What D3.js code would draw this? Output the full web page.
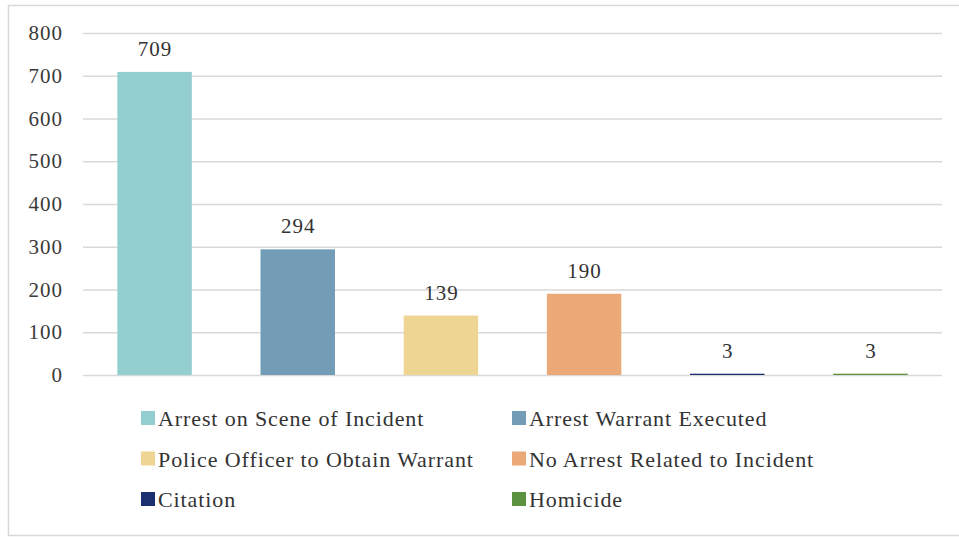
<!DOCTYPE html>
<html>
<head>
  <meta charset="utf-8">
  <script src="https://cdnjs.cloudflare.com/ajax/libs/d3/7.8.5/d3.min.js"></script>
  <style type="text/css">
	body { margin: 0; background: #fff; font-family: 'Liberation Serif', serif; }
	#warm { position: absolute; left: -2000px; top: 0; font-family: 'Liberation Serif'; font-size: 22px; }
	.grid line { stroke: #d9d9d9; stroke-width: 1.5; }
	.grid path { display: none; }
  </style>
</head>
<body>
<div id="warm">0123456789 Arrest</div>
<svg id="chart" width="959" height="537"></svg>
<script>
	var categories = ["Arrest on Scene of Incident", "Arrest Warrant Executed", "Police Officer to Obtain Warrant",
		"No Arrest Related to Incident", "Citation", "Homicide"];
	var values = [709, 294, 139, 190, 3, 3];
	var colors = ["#93ced0", "#739cb6", "#eed594", "#eaa976", "#1c2f6e", "#5a9240"];
	var yTicks = [0, 100, 200, 300, 400, 500, 600, 700, 800];

	var w = 959, h = 537;
	var plotLeft = 83, plotRight = 942, plotTop = 33, plotBottom = 375;
	var serif = "Liberation Serif";

	var svg = d3.select("#chart").attr("width", w).attr("height", h);

	//outer frame
	svg.append("rect")
		.attr("x", 8.5).attr("y", 5.5)
		.attr("width", 960).attr("height", 530)
		.attr("fill", "none")
		.attr("stroke", "#d9d9d9")
		.attr("stroke-width", 1.5);

	var xScale = d3.scaleBand().domain(categories).range([plotLeft, plotRight]).paddingInner(0.48).paddingOuter(0.24);
	var yScale = d3.scaleLinear().domain([0, 800]).range([plotBottom, plotTop]);

	//gridlines + tick labels
	var yAxis = d3.axisLeft(yScale).tickValues(yTicks).tickSizeInner(-(plotRight - plotLeft)).tickSizeOuter(0).tickPadding(21);
	var gy = svg.append("g")
		.attr("class", "grid")
		.attr("transform", "translate(" + plotLeft + ",0)")
		.call(yAxis)
		.attr("font-family", serif)
		.attr("font-size", 21);
	gy.selectAll("text")
		.attr("x", -20)
		.attr("fill", "#3a3a3a")
		.attr("letter-spacing", 1)
		.attr("font-family", serif);

	//bars
	svg.selectAll("rect.bar").data(values)
		.enter().append("rect")
		.attr("class", "bar")
		.attr("x", function(d, i) { return xScale(categories[i]); })
		.attr("y", function(d) { return yScale(d); })
		.attr("width", xScale.bandwidth())
		.attr("height", function(d) { return plotBottom - yScale(d); })
		.attr("fill", function(d, i) { return colors[i]; });

	//value labels
	svg.selectAll("text.val").data(values)
		.enter().append("text")
		.attr("class", "val")
		.attr("text-anchor", "middle")
		.attr("x", function(d, i) { return xScale(categories[i]) + xScale.bandwidth() / 2 + 0.5; })
		.attr("y", function(d) { return yScale(d) - 16; })
		.attr("font-family", serif)
		.attr("font-size", 21)
		.attr("letter-spacing", 1)
		.attr("fill", "#333")
		.text(function(d) { return d; });

	//legend, two columns
	var legend = svg.selectAll("g.leg").data(categories)
		.enter().append("g")
		.attr("class", "leg")
		.attr("transform", function(d, i) {
			return "translate(" + (i % 2 ? 512 : 141) + "," + (411 + Math.floor(i / 2) * 40.5) + ")";
		});
	legend.append("rect")
		.attr("width", 14).attr("height", 14)
		.attr("fill", function(d, i) { return colors[i]; });
	legend.append("text")
		.attr("x", 17)
		.attr("y", 15)
		.attr("font-family", serif)
		.attr("font-size", 22)
		.attr("letter-spacing", 0.9)
		.attr("fill", "#333")
		.text(function(d) { return d; });
</script>
</body>
</html>
